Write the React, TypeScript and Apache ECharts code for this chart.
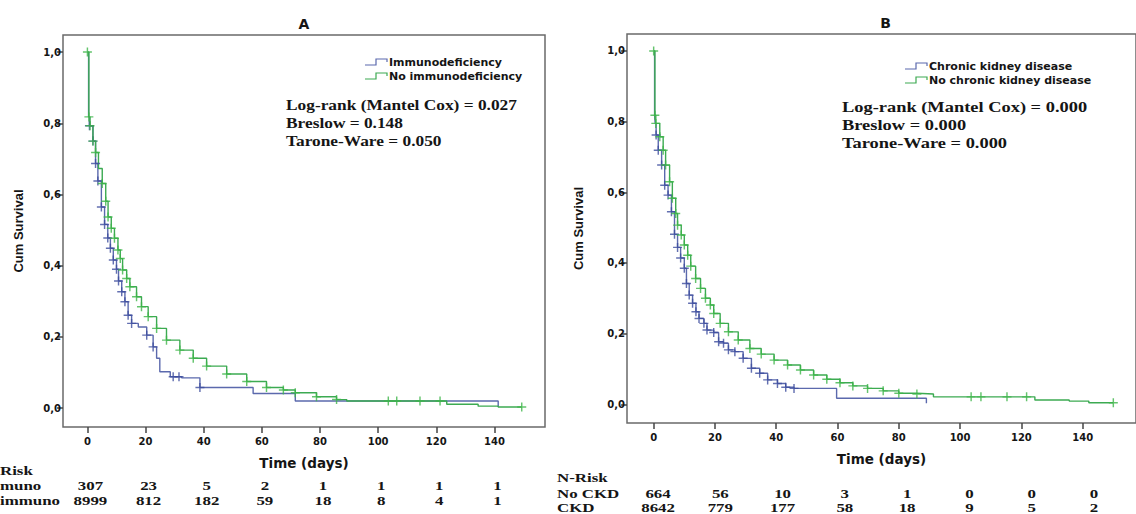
import React, { useEffect, useRef } from "react";
import * as echarts from "echarts";

// ---------- data ----------
const xTicks = [0, 20, 40, 60, 80, 100, 120, 140];
const yTicks = [0, 0.2, 0.4, 0.6, 0.8, 1.0];

// Panel A – Immunodeficiency (blue)
const aBlueT = [0, 0.4, 0.7, 1.9, 2.8, 3.6, 4.8, 5.9, 7.0, 7.9, 8.9, 10.0, 10.7, 11.8, 12.9, 14.0, 15.2, 17.5, 20.4, 22.6, 23.8, 24.9, 28.5, 32.4, 38.7, 57.0, 71.5, 141.3];
const aBlueS = [1.0, 0.818, 0.793, 0.75, 0.687, 0.638, 0.565, 0.516, 0.478, 0.449, 0.416, 0.39, 0.357, 0.327, 0.299, 0.261, 0.238, 0.228, 0.205, 0.172, 0.14, 0.102, 0.088, 0.085, 0.058, 0.041, 0.02, 0.003];
const aBlueCT = [0.7, 1.9, 2.8, 3.6, 4.8, 5.9, 7.0, 7.9, 8.9, 10.0, 10.7, 11.8, 12.9, 14.0, 15.2, 20.4, 22.6, 29.5, 31.5, 38.7];
const aBlueCS = [0.793, 0.75, 0.687, 0.638, 0.565, 0.516, 0.478, 0.449, 0.416, 0.39, 0.357, 0.327, 0.299, 0.261, 0.238, 0.205, 0.172, 0.088, 0.088, 0.058];

// Panel A – No immunodeficiency (green)
const aGreenT = [0, 0.5, 0.9, 1.9, 2.8, 3.8, 5.1, 6.3, 7.1, 8.2, 9.3, 10.5, 11.3, 12.1, 13.5, 14.6, 16.9, 18.6, 20.9, 23.8, 27.2, 31.8, 36.4, 41.0, 47.9, 54.8, 61.6, 67.4, 71.5, 78.8, 85.7, 89.2, 123.6, 134.4, 141.3, 149.4];
const aGreenS = [1.0, 0.818, 0.793, 0.75, 0.718, 0.673, 0.631, 0.581, 0.537, 0.505, 0.477, 0.444, 0.42, 0.388, 0.364, 0.341, 0.313, 0.285, 0.257, 0.224, 0.191, 0.163, 0.14, 0.118, 0.096, 0.075, 0.058, 0.051, 0.043, 0.032, 0.024, 0.02, 0.011, 0.0056, 0.003, 0.003];
const aGreenCT = [0, 0.5, 0.9, 1.9, 2.8, 5.1, 6.3, 7.1, 8.2, 9.3, 10.5, 11.3, 12.1, 13.5, 14.6, 16.9, 18.6, 20.9, 23.8, 27.2, 31.8, 36.4, 41.0, 47.9, 54.8, 61.6, 67.4, 71.5, 78.8, 85.7, 103.5, 106.4, 114.4, 121.3, 149.4];
const aGreenCS = [1.0, 0.818, 0.793, 0.75, 0.718, 0.631, 0.581, 0.537, 0.505, 0.477, 0.444, 0.42, 0.388, 0.364, 0.341, 0.313, 0.285, 0.257, 0.224, 0.191, 0.163, 0.14, 0.118, 0.096, 0.075, 0.058, 0.051, 0.043, 0.032, 0.024, 0.02, 0.02, 0.02, 0.02, 0.003];

// Panel B – Chronic kidney disease (blue)
const bBlueT = [0, 0.3, 0.5, 0.8, 1.5, 2.6, 3.6, 4.7, 5.8, 6.8, 7.8, 8.8, 10.0, 10.7, 11.6, 12.7, 13.8, 14.8, 16.4, 17.4, 19.6, 21.2, 22.8, 24.4, 26.5, 29.2, 31.9, 34.6, 37.2, 40.4, 43.1, 45.8, 59.7, 89.0];
const bBlueS = [1.0, 0.818, 0.795, 0.762, 0.719, 0.677, 0.62, 0.592, 0.545, 0.481, 0.444, 0.414, 0.385, 0.342, 0.309, 0.286, 0.262, 0.243, 0.229, 0.21, 0.203, 0.177, 0.173, 0.154, 0.149, 0.13, 0.102, 0.088, 0.069, 0.059, 0.048, 0.045, 0.017, 0.003];
const bBlueCT = [0.8, 1.5, 2.6, 3.6, 4.7, 5.8, 6.8, 7.8, 8.8, 10.0, 10.7, 11.6, 12.7, 13.8, 14.8, 16.4, 17.4, 19.6, 21.2, 22.8, 24.4, 26.5, 29.2, 31.9, 34.6, 37.2, 40.4, 43.1, 45.8];
const bBlueCS = [0.762, 0.719, 0.677, 0.62, 0.592, 0.545, 0.481, 0.444, 0.414, 0.385, 0.342, 0.309, 0.286, 0.262, 0.243, 0.229, 0.21, 0.203, 0.177, 0.173, 0.154, 0.149, 0.13, 0.102, 0.088, 0.069, 0.059, 0.048, 0.045];

// Panel B – No chronic kidney disease (green)
const bGreenT = [0, 0.4, 0.7, 2.0, 3.1, 3.9, 5.2, 6.1, 7.2, 7.8, 9.0, 10.0, 11.1, 12.1, 13.7, 15.3, 16.9, 18.5, 19.6, 21.7, 24.4, 27.6, 31.4, 35.1, 39.3, 43.7, 47.9, 52.2, 56.5, 60.8, 65.0, 69.8, 74.9, 80.0, 85.9, 91.3, 124.4, 135.6, 142.0, 150.0];
const bGreenS = [1.0, 0.818, 0.795, 0.757, 0.719, 0.677, 0.63, 0.583, 0.54, 0.507, 0.479, 0.451, 0.422, 0.391, 0.356, 0.328, 0.3, 0.281, 0.257, 0.229, 0.205, 0.182, 0.158, 0.142, 0.125, 0.111, 0.097, 0.083, 0.071, 0.061, 0.052, 0.045, 0.038, 0.031, 0.029, 0.021, 0.012, 0.009, 0.0045, 0.0045];
const bGreenCT = [0, 0.4, 0.7, 2.0, 3.1, 3.9, 5.2, 6.1, 7.2, 7.8, 9.0, 10.0, 11.1, 12.1, 13.7, 15.3, 16.9, 18.5, 19.6, 21.7, 24.4, 27.6, 31.4, 35.1, 39.3, 43.7, 47.9, 52.2, 56.5, 60.8, 65.0, 69.8, 74.9, 80.0, 85.9, 103.6, 106.8, 115.3, 121.7, 150.0];
const bGreenCS = [1.0, 0.818, 0.795, 0.757, 0.719, 0.677, 0.63, 0.583, 0.54, 0.507, 0.479, 0.451, 0.422, 0.391, 0.356, 0.328, 0.3, 0.281, 0.257, 0.229, 0.205, 0.182, 0.158, 0.142, 0.125, 0.111, 0.097, 0.083, 0.071, 0.061, 0.052, 0.045, 0.038, 0.031, 0.029, 0.021, 0.021, 0.021, 0.021, 0.0045];

// Numbers at risk
const riskTimes = [0, 20, 40, 60, 80, 100, 120, 140];
const riskAImmuno = [307, 23, 5, 2, 1, 1, 1, 1];
const riskANonImmuno = [8999, 812, 182, 59, 18, 8, 4, 1];
const riskBNoCkd = [664, 56, 10, 3, 1, 0, 0, 0];
const riskBCkd = [8642, 779, 177, 58, 18, 9, 5, 2];
// Row labels of panel A as they are visible (cropped at the left edge in the source)
const riskLabelsA = ["Risk", "muno", "immuno"];
const riskLabelsB = ["N-Risk", "No CKD", "CKD"];

const legendA = ["Immunodeficiency", "No immunodeficiency"];
const legendB = ["Chronic kidney disease", "No chronic kidney disease"];
const statsA = ["Log-rank (Mantel Cox) = 0.027", "Breslow = 0.148", "Tarone-Ware = 0.050"];
const statsB = ["Log-rank (Mantel Cox) = 0.000", "Breslow = 0.000", "Tarone-Ware = 0.000"];

// ---------- layout / style ----------
const W = 1136;
const H = 514;
const GA = { left: 63, top: 35, width: 482, height: 392 };
const GB = { left: 627, top: 34, width: 517, height: 389 };
const XA = [-8.4, 157.4];
const XB = [-8.7, 157.4];
const YR = [-0.053, 1.048];

const BLUE = "#5b69ad";
const BLUE_MARK = "#3c4c9e";
const GREEN = "#3caa52";
const GREEN_MARK = "#3db548";
const TXT = "#151515";
const FRAME = "#6a6a6a";
const SANS = "'DejaVu Sans', sans-serif";
const SERIF = "'Liberation Serif', 'Times New Roman', serif";
const PLUS = "path://M4.2,0H5.8V4.2H10V5.8H5.8V10H4.2V5.8H0V4.2H4.2Z";

const pairs = (t: number[], s: number[]) => t.map((v, i) => [v, s[i]]);
const xPix = (g: any, r: number[], t: number) => g.left + ((t - r[0]) / (r[1] - r[0])) * g.width;

function makeAxes(idx: number, range: number[], nameGapY: number) {
  const x = {
    type: "value",
    gridIndex: idx,
    min: range[0],
    max: range[1],
    name: "Time (days)",
    nameLocation: "middle",
    nameGap: 29,
    nameTextStyle: { fontFamily: SANS, fontWeight: "bold", fontSize: 13.5, color: TXT },
    axisLine: { show: false, onZero: false },
    axisTick: { show: true, length: 6, inside: false, lineStyle: { color: "#444", width: 1.5 }, customValues: xTicks },
    axisLabel: { show: true, margin: 9, fontFamily: SANS, fontWeight: "bold", fontSize: 10, color: TXT, customValues: xTicks },
    splitLine: { show: false },
  };
  const y = {
    type: "value",
    gridIndex: idx,
    min: YR[0],
    max: YR[1],
    name: "Cum Survival",
    nameLocation: "middle",
    nameGap: nameGapY,
    nameTextStyle: { fontFamily: "'Liberation Sans', Arial, sans-serif", fontWeight: "bold", fontSize: 13, color: TXT },
    axisLine: { show: false, onZero: false },
    axisTick: { show: true, length: 6, inside: false, lineStyle: { color: "#444", width: 1.5 }, customValues: yTicks },
    axisLabel: {
      show: true,
      margin: 2,
      fontFamily: SANS,
      fontWeight: "bold",
      fontSize: 10,
      color: TXT,
      customValues: yTicks,
      formatter: (v: number) => v.toFixed(1).replace(".", ","),
    },
    splitLine: { show: false },
  };
  return { x, y };
}

function curveSeries(idx: number, t: number[], s: number[], ct: number[], cs: number[], line: string, mark: string) {
  return [
    {
      type: "line",
      xAxisIndex: idx,
      yAxisIndex: idx,
      data: pairs(t, s),
      step: "end",
      showSymbol: false,
      silent: true,
      lineStyle: { color: line, width: 1.4 },
      itemStyle: { color: line },
      z: 2,
    },
    {
      type: "scatter",
      xAxisIndex: idx,
      yAxisIndex: idx,
      data: pairs(ct, cs),
      symbol: PLUS,
      symbolSize: 9,
      silent: true,
      itemStyle: { color: mark },
      z: 3,
    },
  ];
}

function legendGraphics(x0: number, y0: number, labels: string[]) {
  const cols = [BLUE, GREEN];
  const out: any[] = [];
  labels.forEach((lab, i) => {
    const y = y0 + i * 14;
    out.push({
      type: "polyline",
      x: x0,
      y: y - 3,
      shape: { points: [[0, 6], [11, 6], [11, 0], [22, 0], [22, 3]] },
      style: { stroke: cols[i], fill: null, lineWidth: 1.2 },
      silent: true,
    });
    out.push({
      type: "text",
      x: x0 + 24,
      y,
      style: { text: lab, fontFamily: SANS, fontWeight: "bold", fontSize: 11, fill: TXT, align: "left", verticalAlign: "middle" },
      silent: true,
    });
  });
  return out;
}

function statGraphics(x0: number, y0: number, lines: string[], size: number, sx: number) {
  return lines.map((l, i) => ({
    type: "text",
    x: x0,
    y: y0 + i * 18,
    scaleX: sx,
    style: { text: l, fontFamily: SERIF, fontWeight: "bold", fontSize: size, fill: TXT, align: "left", verticalAlign: "middle" },
    silent: true,
  }));
}

function serifText(text: string, x: number, y: number, align: string) {
  return {
    type: "text",
    x,
    y,
    scaleX: 1.25,
    style: { text, fontFamily: SERIF, fontWeight: "bold", fontSize: 13.5, fill: TXT, align, verticalAlign: "middle" },
    silent: true,
  };
}

function riskGraphics(g: any, r: number[], rows: number[][], ys: number[], dx: number) {
  const out: any[] = [];
  rows.forEach((row, ri) => {
    row.forEach((v, i) => {
      out.push(serifText(String(v), xPix(g, r, riskTimes[i]) + dx, ys[ri], "center"));
    });
  });
  return out;
}

export default function App() {
  const ref = useRef<HTMLDivElement>(null);

  useEffect(() => {
    if (!ref.current) return;
    const chart = echarts.init(ref.current, null, { renderer: "svg", width: W, height: H });
    const axA = makeAxes(0, XA, 38);
    const axB = makeAxes(1, XB, 42);

    const graphic: any[] = [
      {
        type: "text",
        x: GA.left + GA.width / 2,
        y: 24,
        style: { text: "A", fontFamily: SANS, fontWeight: "bold", fontSize: 14, fill: TXT, align: "center", verticalAlign: "middle" },
      },
      {
        type: "text",
        x: GB.left + GB.width / 2,
        y: 23,
        style: { text: "B", fontFamily: SANS, fontWeight: "bold", fontSize: 14, fill: TXT, align: "center", verticalAlign: "middle" },
      },
      ...legendGraphics(365, 62, legendA),
      ...legendGraphics(905, 66, legendB),
      ...statGraphics(286, 105, statsA, 14, 1.24),
      ...statGraphics(842, 107, statsB, 14.5, 1.27),
      serifText(riskLabelsA[0], 0, 470, "left"),
      serifText(riskLabelsA[1], 0, 485, "left"),
      serifText(riskLabelsA[2], 0, 500, "left"),
      ...riskGraphics(GA, XA, [riskAImmuno, riskANonImmuno], [485, 500], 3),
      serifText(riskLabelsB[0], 557, 477, "left"),
      serifText(riskLabelsB[1], 557, 493, "left"),
      serifText(riskLabelsB[2], 557, 507, "left"),
      ...riskGraphics(GB, XB, [riskBNoCkd, riskBCkd], [493, 507], 4),
    ];

    chart.setOption({
      animation: false,
      backgroundColor: "#ffffff",
      grid: [
        { ...GA, show: true, borderColor: FRAME, borderWidth: 1.5, backgroundColor: "transparent", containLabel: false },
        { ...GB, show: true, borderColor: FRAME, borderWidth: 1.5, backgroundColor: "transparent", containLabel: false },
      ],
      xAxis: [axA.x, axB.x],
      yAxis: [axA.y, axB.y],
      series: [
        ...curveSeries(0, aBlueT, aBlueS, aBlueCT, aBlueCS, BLUE, BLUE_MARK),
        ...curveSeries(0, aGreenT, aGreenS, aGreenCT, aGreenCS, GREEN, GREEN_MARK),
        ...curveSeries(1, bBlueT, bBlueS, bBlueCT, bBlueCS, BLUE, BLUE_MARK),
        ...curveSeries(1, bGreenT, bGreenS, bGreenCT, bGreenCS, GREEN, GREEN_MARK),
      ],
      graphic,
    });
    return () => chart.dispose();
  }, []);

  return (
    <div style={{ position: "fixed", left: 0, top: 0, width: W, height: H, overflow: "hidden", background: "#fff" }}>
      <div ref={ref} style={{ width: W, height: H }} />
    </div>
  );
}
